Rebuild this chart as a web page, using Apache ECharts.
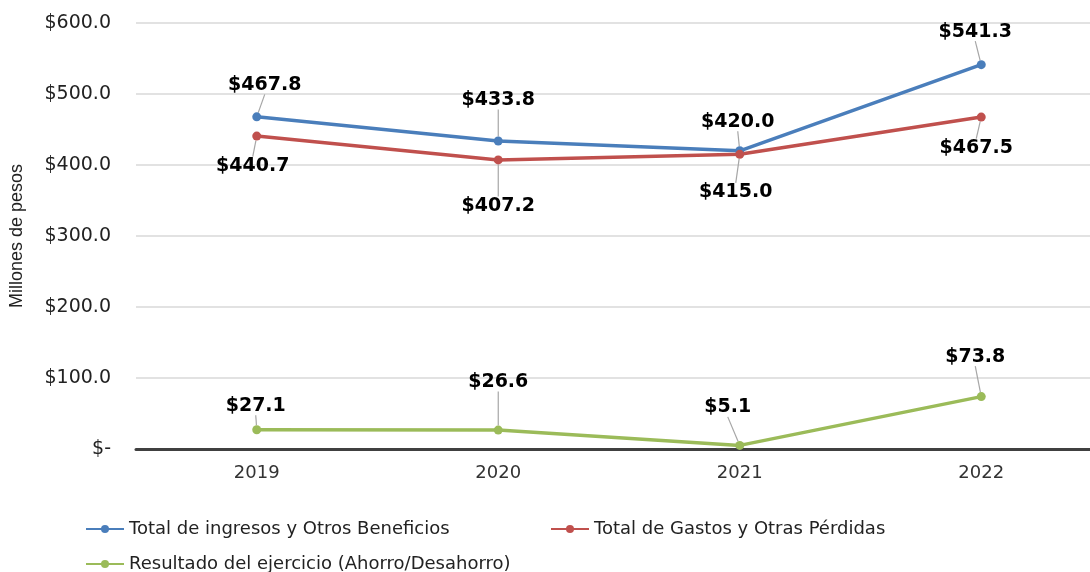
<!DOCTYPE html>
<html>
<head>
<meta charset="utf-8">
<script src="https://cdn.jsdelivr.net/npm/echarts@6/dist/echarts.min.js"></script>
<style>
  html, body { margin: 0; padding: 0; background: #fff; overflow: hidden; }
  #chart { width: 1102px; height: 572px; }
</style>
</head>
<body>
<div id="chart"></div>
<script>
const years = ['2019', '2020', '2021', '2022']
const ingresos = [467.8, 433.8, 420.0, 541.3]
const gastos = [440.7, 407.2, 415.0, 467.5]
const resultado = [27.1, 26.6, 5.1, 73.8]
const seriesNames = [
  'Total de ingresos y Otros Beneficios',
  'Total de Gastos y Otras Pérdidas',
  'Resultado del ejercicio (Ahorro/Desahorro)'
]

// label offsets (px) from each point
const offsets = [
  [[8, -32], [0, -41], [-2, -29], [-6, -33]],
  [[-4, 30], [0, 46], [-4, 38], [-5, 31]],
  [[-1, -24], [0, -48], [-12, -38], [-6, -40]]
]

const font = 'DejaVu Sans'
const colors = ['#4A7EBB', '#C0504D', '#9BBB59']

function money(v) {
  if (v === 0) return '$-'
  return '$' + v.toFixed(1)
}

function makeSeries(i, values) {
  return {
    name: seriesNames[i],
    type: 'line',
    data: values,
    symbol: 'circle',
    symbolSize: 9,
    color: colors[i],
    lineStyle: { width: 3.5 },
    label: {
      show: true,
      position: 'inside',
      formatter: function(p) { return money(p.value) },
      fontFamily: font,
      fontWeight: 'bold',
      fontSize: 19,
      color: '#000'
    },
    labelLine: {
      show: true,
      lineStyle: { color: '#a6a6a6', width: 1.2 }
    },
    labelLayout: function(params) {
      const o = offsets[i][params.dataIndex]
      return { dx: o[0], dy: o[1] }
    }
  }
}

const legendText = { fontFamily: font, fontSize: 18, color: '#222' }

// the plot runs a little past the right edge of the window, as in the picture
const chart = echarts.init(document.getElementById('chart'))
chart.setOption({
  animation: false,
  grid: { left: 136, right: 0, top: 23, bottom: 123 },
  legend: [
    {
      data: [seriesNames[0]],
      left: 80,
      top: 515,
      itemWidth: 38,
      itemHeight: 10,
      textStyle: legendText
    },
    {
      data: [seriesNames[1]],
      left: 545,
      top: 515,
      itemWidth: 38,
      itemHeight: 10,
      textStyle: legendText
    },
    {
      data: [seriesNames[2]],
      left: 80,
      top: 550,
      itemWidth: 38,
      itemHeight: 10,
      textStyle: legendText
    }
  ],
  xAxis: {
    type: 'category',
    data: years,
    boundaryGap: true,
    axisLine: { lineStyle: { color: '#404040', width: 3 } },
    axisTick: { show: false },
    axisLabel: { fontFamily: font, fontSize: 18, color: '#333', margin: 15 }
  },
  yAxis: {
    type: 'value',
    min: 0,
    max: 600,
    interval: 100,
    name: 'Millones de pesos',
    nameLocation: 'middle',
    nameGap: 110,
    nameTextStyle: { fontFamily: 'Liberation Sans', fontSize: 18, color: '#222' },
    axisLine: { show: false },
    axisTick: { show: false },
    splitLine: { lineStyle: { color: '#d9d9d9', width: 1.5 } },
    axisLabel: {
      fontFamily: font,
      fontSize: 19,
      color: '#222',
      margin: 25,
      formatter: money
    }
  },
  series: [
    makeSeries(0, ingresos),
    makeSeries(1, gastos),
    makeSeries(2, resultado)
  ]
})
</script>
</body>
</html>
